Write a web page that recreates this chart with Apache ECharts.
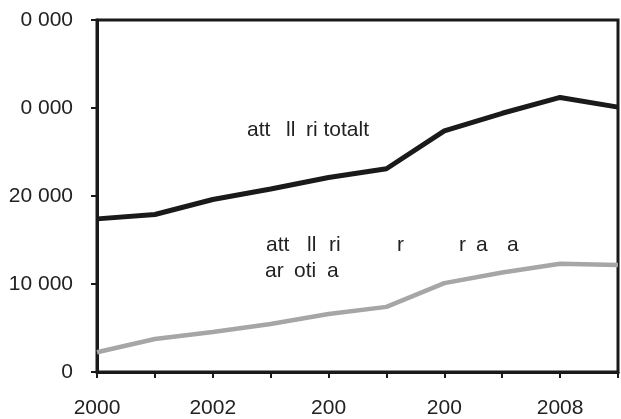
<!DOCTYPE html>
<html>
<head>
<meta charset="utf-8">
<script src="https://cdn.jsdelivr.net/npm/echarts@6/dist/echarts.min.js"></script>
<style>
  html, body { margin: 0; padding: 0; background: #fff; }
  #linesChart { width: 621px; height: 419px; }
</style>
</head>
<body>
<div id="linesChart"></div>
<script>
const years = ['2000','2001','2002','2003','2004','2005','2006','2007','2008','2009']
const xTickLabels = ['2000','','2002','','200','','200','','2008','']
const yTickLabels = ['0','10 000','20 000','0 000','0 000']
const totalValues = [17400, 17900, 19600, 20800, 22100, 23100, 27400, 29400, 31200, 30100]
const otherValues = [2250, 3750, 4550, 5450, 6600, 7400, 10100, 11300, 12300, 12150]

const textColor = '#222'
const font = 'Liberation Sans, Arial, sans-serif'

// annotation pieces (the original font was missing some glyphs)
function label(text, x, y) {
  return {
    type: 'text', left: x, top: y,
    style: { text: text, fill: textColor, font: '21px ' + font }
  }
}

let myChart = echarts.init(document.getElementById('linesChart'))
myChart.setOption({
  animation: false,
  grid: {
    left: 97, right: 2, top: 20, bottom: 47,
    show: true,
    borderColor: '#1a1a1a',
    borderWidth: 3
  },
  xAxis: {
    type: 'category',
    boundaryGap: false,
    data: years,
    axisLine: { lineStyle: { color: '#1a1a1a', width: 3 } },
    axisTick: { interval: 0, length: 6, lineStyle: { color: '#1a1a1a', width: 2 } },
    axisLabel: {
      interval: 0,
      margin: 26,
      color: textColor,
      fontSize: 21,
      fontFamily: font,
      formatter: (v, i) => xTickLabels[i]
    },
    splitLine: { show: false }
  },
  yAxis: {
    type: 'value',
    min: 0,
    max: 40000,
    interval: 10000,
    axisLine: { show: true, lineStyle: { color: '#1a1a1a', width: 3 } },
    axisTick: { show: true, length: 6, lineStyle: { color: '#1a1a1a', width: 2 } },
    axisLabel: {
      margin: 24,
      color: textColor,
      fontSize: 21,
      fontFamily: font,
      formatter: v => yTickLabels[Math.round(v / 10000)]
    },
    splitLine: { show: false }
  },
  series: [
    {
      name: 'totalt',
      type: 'line',
      data: totalValues,
      symbol: 'none',
      lineStyle: { color: '#1a1a1a', width: 5 }
    },
    {
      name: 'other',
      type: 'line',
      data: otherValues,
      symbol: 'none',
      lineStyle: { color: '#a6a6a6', width: 4.5 }
    }
  ],
  graphic: [
    label('att', 247, 120),
    label('ll', 286, 120),
    label('ri totalt', 306, 120),
    label('att', 266, 235),
    label('ll', 307, 235),
    label('ri', 329, 235),
    label('r', 397, 235),
    label('r', 459, 235),
    label('a', 476, 235),
    label('a', 507, 235),
    label('ar', 265, 261),
    label('oti', 294, 261),
    label('a', 327, 261)
  ]
})
</script>
</body>
</html>
